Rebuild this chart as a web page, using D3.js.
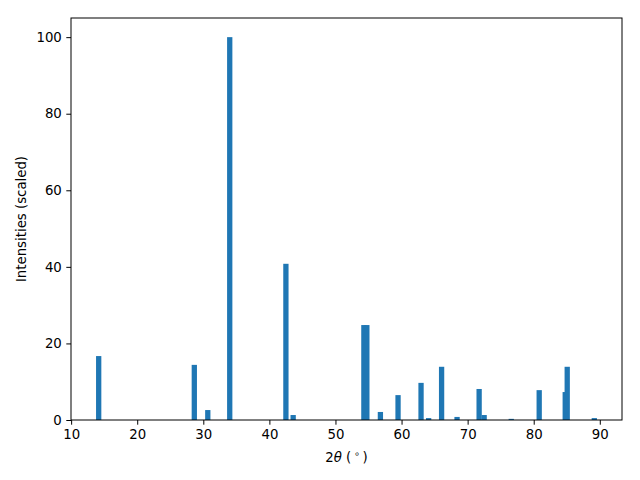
<!DOCTYPE html>
<html><head><meta charset="utf-8">
<script src="https://cdn.jsdelivr.net/npm/d3@7"></script>
<style>body{margin:0;background:#fff}svg{display:block}text{font-family:"DejaVu Sans",sans-serif}</style>
</head><body>
<svg id="c" width="640" height="480"></svg>
<script>
const twoTheta = [14.17, 28.64, 30.68, 34.0, 42.5, 43.6, 54.3, 54.75, 56.8, 59.47, 62.95, 64.1, 66.06, 68.4, 71.74, 72.5, 76.6, 80.83, 84.77, 85.07, 89.17];
const intensity = [16.7, 14.4, 2.6, 100, 40.8, 1.3, 24.8, 24.8, 2.1, 6.5, 9.7, 0.5, 13.9, 0.8, 8.1, 1.3, 0.3, 7.8, 7.3, 13.9, 0.5];
const xTicks = [10, 20, 30, 40, 50, 60, 70, 80, 90];
const yTicks = [0, 20, 40, 60, 80, 100];
const barWidth = 0.8;

const m = {l: 71, r: 622, t: 18, b: 420};
const svg = d3.select("#c");
const x = d3.scaleLinear().domain([9.98, 93.36]).range([m.l, m.r]);
const y = d3.scaleLinear().domain([0, 105]).range([m.b, m.t]);

svg.append("g").selectAll("rect").data(twoTheta).join("rect")
  .attr("x", (d) => x(d - barWidth / 2))
  .attr("width", x(barWidth) - x(0))
  .attr("y", (d, i) => y(intensity[i]))
  .attr("height", (d, i) => y(0) - y(intensity[i]))
  .attr("fill", "#1f77b4");

const xa = svg.append("g").attr("transform", `translate(0,${m.b})`)
  .call(d3.axisBottom(x).tickValues(xTicks).tickFormat(d3.format("d")).tickSize(4.7).tickPadding(4.5));
const ya = svg.append("g").attr("transform", `translate(${m.l},0)`)
  .call(d3.axisLeft(y).tickValues(yTicks).tickFormat(d3.format("d")).tickSize(4.7).tickPadding(4.5));
[xa, ya].forEach(a => {
  a.select(".domain").remove();
  a.selectAll("text").attr("font-size", 13.3).attr("fill", "#000").attr("font-family", "DejaVu Sans");
  a.selectAll("line").attr("stroke", "#000").attr("stroke-width", 1);
});

svg.append("rect").attr("x", m.l).attr("y", m.t).attr("width", m.r - m.l).attr("height", m.b - m.t)
  .attr("fill", "none").attr("stroke", "#000").attr("stroke-width", 1);

const xl = svg.append("text").attr("x", (m.l + m.r) / 2).attr("y", 462)
  .attr("text-anchor", "middle").attr("font-size", 13.3).attr("xml:space", "preserve");
xl.append("tspan").text("2");
xl.append("tspan").attr("font-style", "italic").text("θ");
xl.append("tspan").text(" (\u2009");
xl.append("tspan").attr("font-size", 9.5).attr("dy", -5).text("∘");
xl.append("tspan").attr("dy", 5).text("\u2009)");

svg.append("text").attr("transform", `translate(26,${(m.t + m.b) / 2}) rotate(-90)`)
  .attr("text-anchor", "middle").attr("font-size", 13.3).text("Intensities (scaled)");
</script>
</body></html>
